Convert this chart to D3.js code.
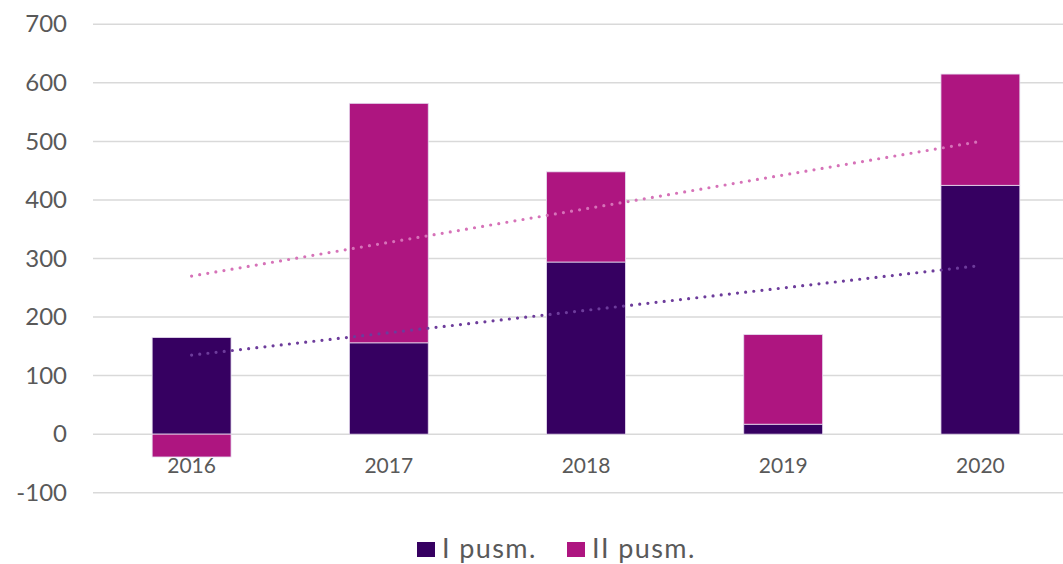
<!DOCTYPE html>
<html>
<head>
<meta charset="utf-8">
<script src="https://cdn.jsdelivr.net/npm/d3@7"></script>
<style>
  body { margin: 0; background: #fff; }
  text { font-family: Lato, "Open Sans", sans-serif; fill: #595959; }
</style>
</head>
<body>
<div id="chart"></div>
<script>
// data
var years = ["2016", "2017", "2018", "2019", "2020"];
var first_half = [165, 156, 294, 17, 425];     // I pusm.
var second_half = [-39, 409, 154, 153, 190];   // II pusm.
var series_names = ["I pusm.", "II pusm."];
var y_ticks = [-100, 0, 100, 200, 300, 400, 500, 600, 700];
// dotted trend lines, value at first and last year
var trend_first = [135, 288];
var trend_total = [270, 500];

var W = 1063, H = 564;
var colors = ["#360061", "#ae1580"];
var trend_colors = ["#6d3c9b", "#d672b8"];

var svg = d3.select("#chart").append("svg")
    .attr("width", W)
    .attr("height", H);

var x = d3.scaleBand().domain(years).range([93, 1079]).paddingInner(0.6).paddingOuter(0.3);
var y = d3.scaleLinear().domain([-100, 700]).range([492.7, 24.3]);

// grid
svg.append("g").selectAll("line")
    .data(y_ticks)
    .join("line")
    .attr("x1", 93).attr("x2", W)
    .attr("y1", d => y(d)).attr("y2", d => y(d))
    .attr("stroke", "#d9d9d9")
    .attr("stroke-width", 1.5);

// y axis labels (plain hyphen for negatives, like the original)
var yAxis = d3.axisLeft(y).tickValues(y_ticks).tickSize(0).tickPadding(0)
    .tickFormat(d => String(d));
var ya = svg.append("g").attr("transform", "translate(67,0)").call(yAxis);
ya.select(".domain").remove();
ya.selectAll("text").style("font-size", "24px").attr("fill", "#595959").style("font-family", "Lato, sans-serif");

// stacked bars, negatives go below zero
var rows = years.map(function(yr, i) {
  var pos = 0, neg = 0, segs = [];
  [first_half[i], second_half[i]].forEach(function(v, k) {
    if (v >= 0) { segs.push({k: k, y0: pos, y1: pos + v}); pos += v; }
    else { segs.push({k: k, y0: neg + v, y1: neg}); neg += v; }
  });
  return {year: yr, segs: segs};
});

svg.append("g").selectAll("g")
    .data(rows)
    .join("g")
    .selectAll("rect")
    .data(d => d.segs.map(s => Object.assign({year: d.year}, s)))
    .join("rect")
    .attr("x", d => x(d.year))
    .attr("width", x.bandwidth())
    .attr("y", d => y(d.y1))
    .attr("height", d => y(d.y0) - y(d.y1))
    .attr("fill", d => colors[d.k])
    .attr("stroke", "#e6dcef")
    .attr("stroke-width", 0.8);

// trend lines
var ends = [years[0], years[years.length - 1]];
[trend_first, trend_total].forEach(function(t, k) {
  var line = d3.line()
      .x(d => x(d[0]) + x.bandwidth() / 2)
      .y(d => y(d[1]));
  svg.append("path")
      .attr("d", line([[ends[0], t[0]], [ends[1], t[1]]]))
      .attr("fill", "none")
      .attr("stroke", trend_colors[k])
      .attr("stroke-width", 3.2)
      .attr("stroke-linecap", "round")
      .attr("stroke-dasharray", "0,8.2");
});

// category labels just below zero
var xAxis = d3.axisBottom(x).tickSize(0).tickPadding(0);
var xa = svg.append("g").attr("transform", "translate(0," + y(0) + ")").call(xAxis);
xa.select(".domain").remove();
xa.selectAll("text").attr("dy", 0).attr("y", 39).style("font-size", "21px")
    .attr("fill", "#595959").style("font-family", "Lato, sans-serif");

// legend
var leg = svg.append("g").attr("transform", "translate(417,542)");
var lx = [0, 150];
series_names.forEach(function(n, k) {
  var g = leg.append("g").attr("transform", "translate(" + lx[k] + ",0)");
  g.append("rect").attr("width", 18).attr("height", 15).attr("fill", colors[k]);
  g.append("text").attr("x", 25).attr("y", 16).style("font-size", "27px")
      .style("letter-spacing", "1.4px").text(n);
});
</script>
</body>
</html>
